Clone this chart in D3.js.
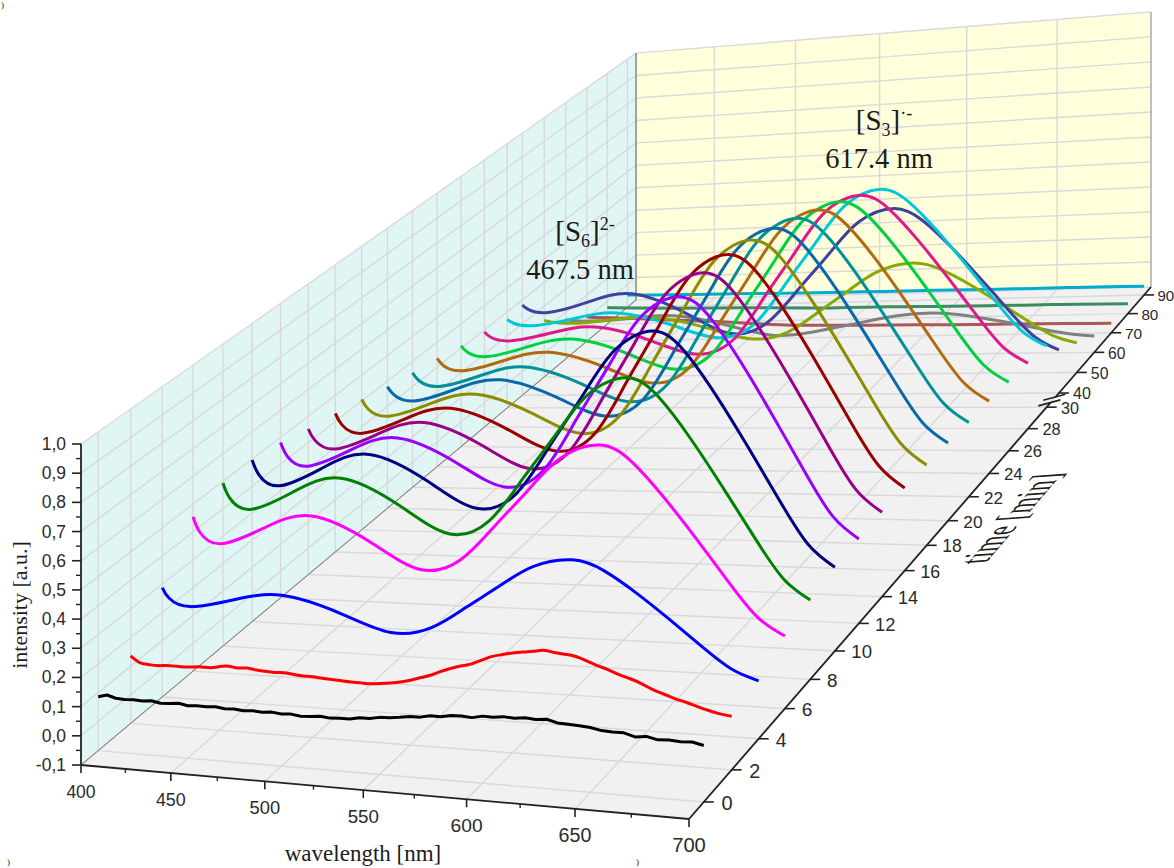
<!DOCTYPE html>
<html>
<head>
<meta charset="utf-8">
<script src="https://cdn.jsdelivr.net/npm/d3@7"></script>
<style>
  html, body { margin: 0; padding: 0; background: #fff; overflow: hidden; }
  svg { display: block; }
  .tick { font-family: "Liberation Sans", Arial, sans-serif; fill: #2a2a2a; }
  .title { font-family: "Liberation Serif", "Times New Roman", serif; fill: #1c1c1c; }
</style>
</head>
<body>
<div id="chart"></div>
<script>
// values
var timeTicks = [0, 2, 4, 6, 8, 10, 12, 14, 16, 18, 20, 22, 24, 26, 28, 30, 40, 50, 60, 70, 80, 90];
var waveTicks = [400, 450, 500, 550, 600, 650, 700];
var waveMinor = [425, 475, 525, 575, 625, 675];
var intensityTicks = [-0.1, 0, 0.1, 0.2, 0.3, 0.4, 0.5, 0.6, 0.7, 0.8, 0.9, 1.0];

var waves = [400, 404, 416, 440, 467, 499, 525, 546, 563, 580, 596, 615, 630, 645, 660, 675, 688, 700];
var wavesFine = d3.range(400, 701, 5);

var t0 = [.086,.094,.085,.083,.084,.082,.085,.079,.080,.083,.077,.079,.078,.080,.076,.077,.074,.076,.073,.076,.072,.074,.069,.071,.074,.070,.072,.072,.078,.078,.084,.085,.089,.094,.094,.101,.100,.106,.107,.104,.111,.110,.114,.111,.115,.112,.115,.106,.104,.102,.099,.092,.090,.090,.080,.084,.076,.078,.075,.077,.069];
var t2 = [.136,.115,.110,.108,.110,.110,.109,.111,.113,.112,.118,.121,.117,.119,.114,.112,.110,.111,.107,.104,.103,.100,.098,.096,.094,.093,.092,.095,.099,.104,.112,.122,.132,.146,.158,.168,.176,.190,.204,.212,.219,.224,.228,.233,.228,.224,.219,.207,.194,.183,.170,.159,.146,.130,.118,.106,.097,.086,.076,.068,.063];
var t4 = [.288,.251,.225,.255,.279,.225,.170,.194,.265,.342,.408,.434,.402,.335,.257,.175,.111,.079];
var t6 = [.455,.40,.361,.42,.468,.382,.295,.334,.449,.573,.680,.723,.669,.556,.426,.289,.182,.128];
var t8 = [.494,.439,.40,.465,.518,.425,.332,.380,.524,.678,.812,.865,.801,.666,.509,.345,.217,.153];
var t10 = [.496,.442,.403,.468,.521,.428,.336,.391,.555,.732,.884,.945,.875,.728,.558,.380,.241,.171];
var t12 = [.48,.429,.393,.452,.50,.415,.329,.388,.566,.757,.921,.987,.914,.760,.582,.396,.250,.177];
var t14 = [.451,.408,.376,.431,.476,.394,.312,.374,.558,.757,.928,.996,.923,.768,.589,.401,.254,.181];
var t16 = [.431,.387,.355,.407,.45,.372,.294,.356,.544,.745,.919,.988,.915,.762,.584,.397,.252,.179];
var t18 = [.406,.368,.341,.387,.424,.351,.278,.340,.526,.727,.899,.968,.897,.746,.572,.389,.246,.175];
var t20 = [.377,.345,.321,.365,.401,.332,.263,.324,.506,.702,.871,.939,.870,.724,.555,.378,.239,.17];
var t22 = [.355,.323,.30,.34,.373,.306,.238,.298,.478,.672,.838,.905,.838,.697,.533,.362,.228,.161];
var t24 = [.336,.306,.285,.323,.354,.293,.231,.288,.460,.644,.803,.866,.802,.668,.512,.349,.222,.158];
var t26 = [.31,.284,.265,.301,.33,.269,.207,.263,.430,.610,.765,.827,.766,.637,.488,.331,.209,.148];
var t28 = [.292,.269,.253,.281,.303,.246,.189,.242,.403,.575,.724,.783,.725,.603,.462,.314,.198,.14];
var t30 = [.269,.252,.24,.265,.285,.232,.178,.228,.379,.541,.681,.737,.682,.566,.432,.292,.182,.127];
var t40 = [.279,.259,.245,.283,.314,.229,.144,.187,.314,.451,.570,.617,.567,.461,.339,.211,.111,.061];
var t50 = [.139,.133,.125,.135,.143,.095,.047,.073,.150,.234,.305,.334,.305,.244,.173,.099,.041,.012];
var t60 = [.068,.064,.06,.068,.075,.031,-.013,-.006,.015,.037,.056,.064,.055,.036,.014,-.01,-.028,-.037];
var t70 = [.006,.003,0,-.01,-.02,-.035,-.047,-.05,-.052,-.054,-.055,-.057,-.058,-.059,-.06,-.061,-.062,-.063];
var t80 = [-.027,-.029,-.032,-.037,-.04,-.045,-.05,-.051,-.052,-.053,-.055,-.056,-.057,-.058,-.058,-.059,-.06,-.061];
var t90 = [-.046,-.047,-.049,-.051,-.053,-.056,-.058,-.059,-.06,-.06,-.061,-.062,-.062,-.063,-.063,-.064,-.064,-.065];

var spectra = [t0, t2, t4, t6, t8, t10, t12, t14, t16, t18, t20, t22, t24, t26, t28, t30, t40, t50, t60, t70, t80, t90];
var colors = ["#000000", "#ff0000", "#0000ff", "#ff00ff", "#008000", "#000080", "#9900ff", "#990088",
    "#990000", "#8c8c00", "#0868a8", "#009098", "#b06a10", "#00d040", "#e0188c", "#00c8d8",
    "#4040a0", "#88aa00", "#808080", "#a85858", "#3c8c60", "#00aad0"];

var width = 1174, height = 868;

var svg = d3.select("#chart")
    .append("svg")
    .attr("width", width)
    .attr("height", height);

// the floor corners on screen, then the perspective that maps the unit square on them
var A = [81, 765], B = [689, 819], C = [1151, 287], D = [636, 300];
var wallHeight = 321;

var sx = A[0] - B[0] + C[0] - D[0], sy = A[1] - B[1] + C[1] - D[1];
var dx1 = B[0] - C[0], dx2 = D[0] - C[0], dy1 = B[1] - C[1], dy2 = D[1] - C[1];
var det = dx1 * dy2 - dx2 * dy1;
var g = (sx * dy2 - dx2 * sy) / det;
var h = (dx1 * sy - sx * dy1) / det;
var pa = B[0] - A[0] + g * B[0], pb = D[0] - A[0] + h * D[0];
var pd = B[1] - A[1] + g * B[1], pe = D[1] - A[1] + h * D[1];

var waveScale = d3.scaleLinear().domain([400, 700]).range([0, 1]);
// the time axis is broken between 30 and 40
var timeScale = d3.scaleLinear().domain([0, 30, 40, 90]).range([0.024, 0.718, 0.749, 0.98]);
var intScale = d3.scaleLinear().domain([-0.1, 1.0]).range([0, wallHeight]);

function depth(u, v) { return 1 + g * u + h * v; }

function project(u, v, up) {
    var w = depth(u, v);
    return [(pa * u + pb * v + A[0]) / w, (pd * u + pe * v + A[1] - up) / w];
}

function poly(points) {
    return "M" + points.map(function (p) { return p[0] + "," + p[1]; }).join("L") + "Z";
}

function seg(sel, p, q, color, w) {
    sel.append("line")
        .attr("x1", p[0]).attr("y1", p[1])
        .attr("x2", q[0]).attr("y2", q[1])
        .attr("stroke", color)
        .attr("stroke-width", w);
}

// walls and floor
var walls = svg.append("g");
walls.append("path").attr("d", poly([project(0, 0, 0), project(0, 1, 0), project(0, 1, wallHeight), project(0, 0, wallHeight)])).attr("fill", "#e0f6f5");
walls.append("path").attr("d", poly([project(0, 1, 0), project(1, 1, 0), project(1, 1, wallHeight), project(0, 1, wallHeight)])).attr("fill", "#ffffdc");
walls.append("path").attr("d", poly([project(0, 0, 0), project(1, 0, 0), project(1, 1, 0), project(0, 1, 0)])).attr("fill", "#f1f1f1");

var grid = svg.append("g");
var gridColor = "#d9d9d9";
timeTicks.forEach(function (t) {
    var v = timeScale(t);
    seg(grid, project(0, v, 0), project(1, v, 0), gridColor, 1.4);
    seg(grid, project(0, v, 0), project(0, v, wallHeight), gridColor, 1.4);
});
waveTicks.forEach(function (l) {
    var u = waveScale(l);
    seg(grid, project(u, 0, 0), project(u, 1, 0), gridColor, 1.4);
    seg(grid, project(u, 1, 0), project(u, 1, wallHeight), gridColor, 1.4);
});
intensityTicks.forEach(function (i) {
    seg(grid, project(0, 0, intScale(i)), project(0, 1, intScale(i)), gridColor, 1.4);
    seg(grid, project(0, 1, intScale(i)), project(1, 1, intScale(i)), gridColor, 1.4);
});

// wall edges
seg(grid, project(0, 0, 0), project(0, 1, 0), "#777", 1);
seg(grid, project(0, 1, 0), project(0, 1, wallHeight), "#777", 1.2);
seg(grid, project(1, 1, 0), project(1, 1, wallHeight), "#999", 1);

// spectra, the back ones first
var lineSmooth = d3.line().curve(d3.curveNatural);
var lineRough = d3.line();

d3.range(spectra.length - 1, -1, -1).forEach(function (k) {
    var vals = spectra[k];
    var xs = vals.length == wavesFine.length ? wavesFine : waves;
    var pts = vals.map(function (d, i) {
        return project(waveScale(xs[i]), timeScale(timeTicks[k]), intScale(d));
    });
    svg.append("path")
        .attr("d", (k == 0 ? lineRough : lineSmooth)(pts))
        .attr("fill", "none")
        .attr("stroke", colors[k])
        .attr("stroke-width", 3)
        .attr("stroke-linejoin", "round");
});

// axes
var axes = svg.append("g");
var axisColor = "#222";

seg(axes, project(0, 0, 0), project(0, 0, wallHeight), axisColor, 1.8);
seg(axes, project(0, 0, 0), project(1, 0, 0), axisColor, 1.8);

var yFmt = d3.format(".1f");
intensityTicks.forEach(function (i, n) {
    var p = project(0, 0, intScale(i));
    seg(axes, [p[0] - 9, p[1]], p, axisColor, 1.6);
    axes.append("text").attr("class", "tick")
        .attr("x", p[0] - 15).attr("y", p[1] + 6)
        .attr("text-anchor", "end")
        .attr("font-size", 17.5)
        .text(yFmt(i).replace(".", ",").replace("\u2212", "-"));
    if (n > 0) {
        var m = project(0, 0, intScale(i - 0.05));
        seg(axes, [m[0] - 5, m[1]], m, axisColor, 1.4);
    }
});

waveTicks.forEach(function (l) {
    var u = waveScale(l), p = project(u, 0, 0);
    seg(axes, p, [p[0], p[1] + 8], axisColor, 1.6);
    axes.append("text").attr("class", "tick")
        .attr("x", p[0]).attr("y", p[1] + 33)
        .attr("text-anchor", "middle")
        .attr("font-size", 17.5 / depth(u, 0))
        .text(l);
});
waveMinor.forEach(function (l) {
    var p = project(waveScale(l), 0, 0);
    seg(axes, p, [p[0], p[1] + 4], axisColor, 1.4);
});

// time axis with its break
var breakLow = project(1, timeScale(33), 0), breakHigh = project(1, timeScale(37), 0);
seg(axes, project(1, 0, 0), breakLow, axisColor, 1.8);
seg(axes, breakHigh, project(1, 1, 0), axisColor, 1.8);
[breakLow, breakHigh].forEach(function (p) {
    seg(axes, [p[0] - 12, p[1] + 3], [p[0] + 10, p[1] - 3], axisColor, 1.6);
});

timeTicks.forEach(function (t) {
    var v = timeScale(t), p = project(1, v, 0), w = depth(1, v);
    seg(axes, p, [p[0] + 10, p[1]], axisColor, 1.6);
    axes.append("text").attr("class", "tick")
        .attr("x", p[0] + 15.5 / w).attr("y", p[1] + 7 / w)
        .attr("font-size", 17.5 / w)
        .text(t);
});

// titles
svg.append("text").attr("class", "title")
    .attr("x", 363).attr("y", 861)
    .attr("text-anchor", "middle")
    .attr("font-size", 23)
    .text("wavelength [nm]");

svg.append("text").attr("class", "title")
    .attr("transform", "translate(27,605) rotate(-90)")
    .attr("text-anchor", "middle")
    .attr("font-size", 22)
    .text("intensity [a.u.]");

// this title lies sheared along the time axis
svg.append("text").attr("class", "title")
    .attr("transform", "matrix(.648,-.761,1.5,-.105,986,563)")
    .attr("font-size", 28)
    .text("time [min]");

// band labels
function bandLabel(x, y, sub, sup, nm) {
    var t = svg.append("text").attr("class", "title")
        .attr("x", x).attr("y", y)
        .attr("text-anchor", "middle")
        .attr("font-size", 29);
    t.append("tspan").text("[S");
    t.append("tspan").attr("font-size", 18).attr("dy", 6).text(sub);
    t.append("tspan").attr("dy", -6).text("]");
    t.append("tspan").attr("font-size", 18).attr("dy", -11).text(sup);
    svg.append("text").attr("class", "title")
        .attr("x", x - 5).attr("y", y + 38)
        .attr("text-anchor", "middle")
        .attr("font-size", 28.5)
        .text(nm);
}
bandLabel(585, 241, "6", "2-", "467.5 nm");
bandLabel(884, 130, "3", "\u00b7-", "617.4 nm");

// small corners of the neighbouring panel letters
[[1, 8], [7, 865], [636, 865]].forEach(function (p) {
    svg.append("text").attr("class", "title")
        .attr("x", p[0]).attr("y", p[1])
        .attr("font-size", 9)
        .text(")");
});
</script>
</body>
</html>
